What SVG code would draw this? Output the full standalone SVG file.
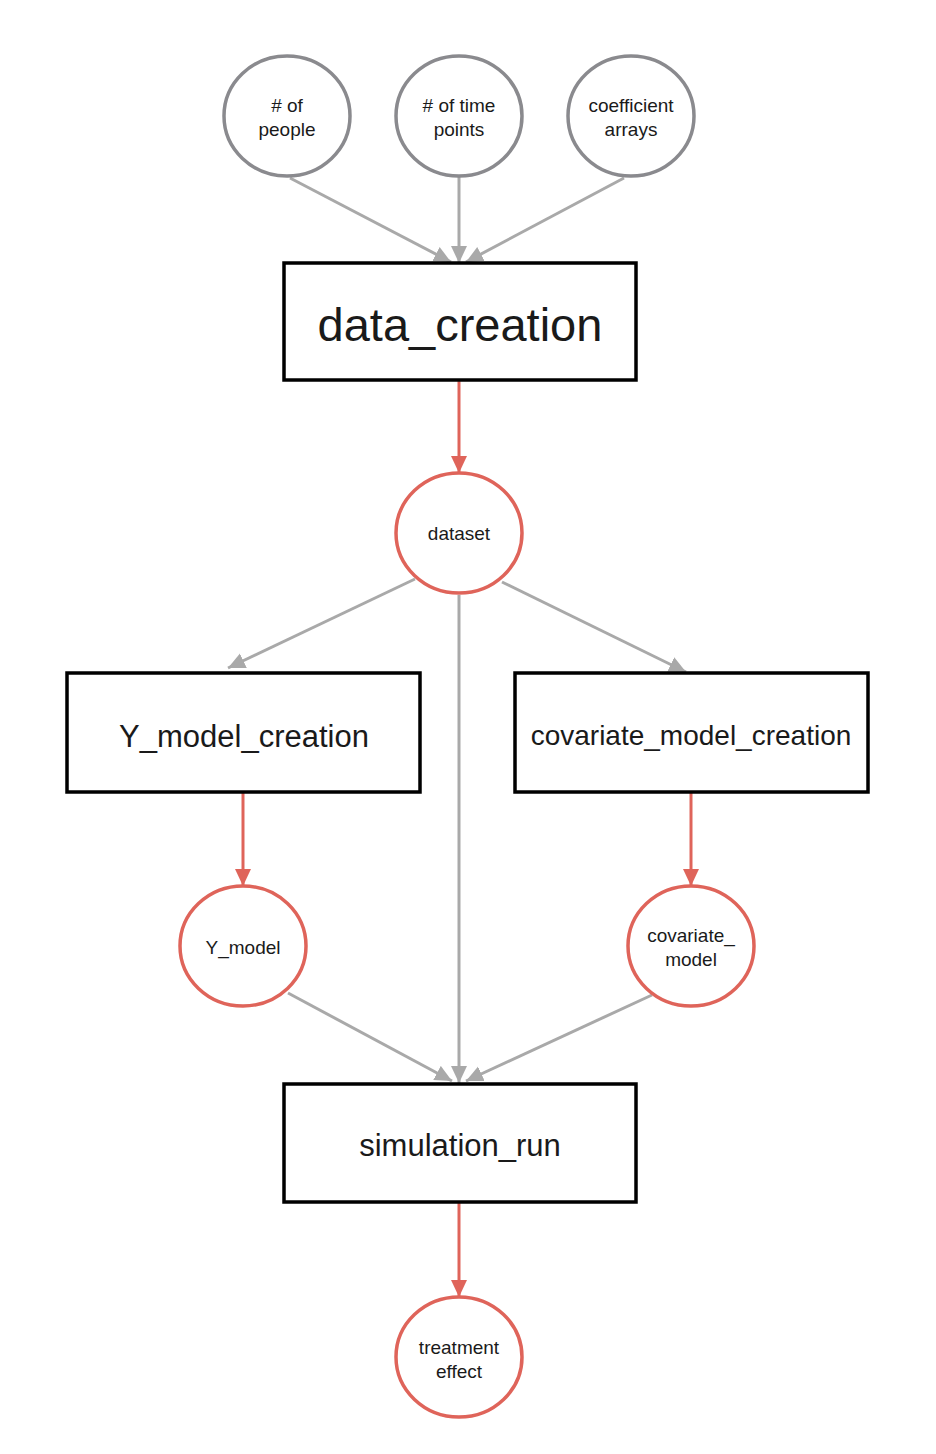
<svg xmlns="http://www.w3.org/2000/svg" width="936" height="1454" viewBox="0 0 936 1454">
<style>
.in{fill:#fff;stroke:#8a8a8e;stroke-width:3.5}
.out{fill:#fff;stroke:#df645a;stroke-width:3.5}
.box{fill:#fff;stroke:#000;stroke-width:3.5}
.g{stroke:#a9a9a9;stroke-width:3;fill:none}
.r{stroke:#df645a;stroke-width:3;fill:none}
text{font-family:"Liberation Sans",Arial,sans-serif;fill:#1a1a1a;text-anchor:middle}
.s{font-size:19px}
</style>
<defs>
<marker id="ag" markerUnits="userSpaceOnUse" markerWidth="20" markerHeight="18" refX="17" refY="8" orient="auto"><path d="M0,0 L17,8 L0,16 z" fill="#a9a9a9"/></marker>
<marker id="ar" markerUnits="userSpaceOnUse" markerWidth="20" markerHeight="18" refX="17" refY="8" orient="auto"><path d="M0,0 L17,8 L0,16 z" fill="#df645a"/></marker>
</defs>
<g id="connectors">
<line class="g" x1="290" y1="178" x2="451" y2="262" marker-end="url(#ag)"/>
<line class="g" x1="459" y1="172" x2="459" y2="263" marker-end="url(#ag)"/>
<line class="g" x1="624" y1="178" x2="466" y2="262" marker-end="url(#ag)"/>
<line class="r" x1="459" y1="381" x2="459" y2="473" marker-end="url(#ar)"/>
<line class="g" x1="415" y1="579" x2="228" y2="668" marker-end="url(#ag)"/>
<line class="g" x1="502" y1="582" x2="686" y2="672" marker-end="url(#ag)"/>
<line class="g" x1="459" y1="595" x2="459" y2="1083" marker-end="url(#ag)"/>
<line class="r" x1="243" y1="792" x2="243" y2="886" marker-end="url(#ar)"/>
<line class="r" x1="691" y1="792" x2="691" y2="886" marker-end="url(#ar)"/>
<line class="g" x1="288" y1="993" x2="452" y2="1081" marker-end="url(#ag)"/>
<line class="g" x1="652" y1="995" x2="466" y2="1081" marker-end="url(#ag)"/>
<line class="r" x1="459" y1="1202" x2="459" y2="1297" marker-end="url(#ar)"/>
</g>
<g id="n_people"><ellipse class="in" cx="287" cy="116" rx="63" ry="60"/><text class="s" x="287" y="112"># of</text><text class="s" x="287" y="136">people</text></g>
<g id="n_time"><ellipse class="in" cx="459" cy="116" rx="63" ry="60"/><text class="s" x="459" y="112"># of time</text><text class="s" x="459" y="136">points</text></g>
<g id="n_coef"><ellipse class="in" cx="631" cy="116" rx="63" ry="60"/><text class="s" x="631" y="112">coefficient</text><text class="s" x="631" y="136">arrays</text></g>
<g id="n_data_creation"><rect class="box" x="284" y="263" width="352" height="117"/><text x="460" y="341" font-size="47">data_creation</text></g>
<g id="n_dataset"><ellipse class="out" cx="459" cy="533" rx="63" ry="60"/><text class="s" x="459" y="540">dataset</text></g>
<g id="n_y_model_creation"><rect class="box" x="67" y="673" width="353" height="119"/><text x="244" y="747" font-size="31">Y_model_creation</text></g>
<g id="n_cov_model_creation"><rect class="box" x="515" y="673" width="353" height="119"/><text x="691" y="745" font-size="28">covariate_model_creation</text></g>
<g id="n_y_model"><ellipse class="out" cx="243" cy="946" rx="63" ry="60"/><text class="s" x="243" y="954">Y_model</text></g>
<g id="n_cov_model"><ellipse class="out" cx="691" cy="946" rx="63" ry="60"/><text class="s" x="691" y="942">covariate_</text><text class="s" x="691" y="966">model</text></g>
<g id="n_simulation_run"><rect class="box" x="284" y="1084" width="352" height="118"/><text x="460" y="1156" font-size="31">simulation_run</text></g>
<g id="n_treatment"><ellipse class="out" cx="459" cy="1357" rx="63" ry="60"/><text class="s" x="459" y="1354">treatment</text><text class="s" x="459" y="1378">effect</text></g>
</svg>
